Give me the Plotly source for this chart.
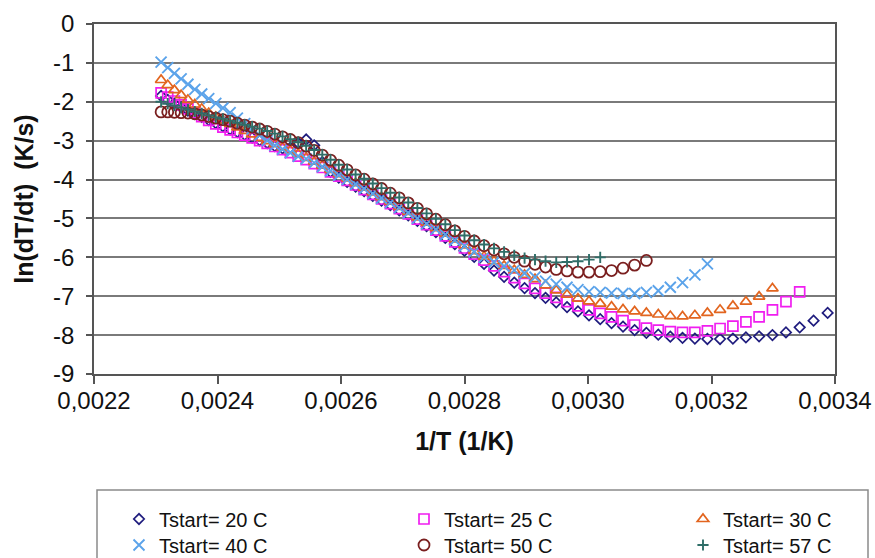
import plotly.graph_objects as go

# Temperature grid of the measurements (deg C), heating runs end at 160 C
temps_C = [160, 158, 156, 154, 152, 150, 148, 146, 144, 142,
           140, 138, 136, 134, 132, 130, 128, 126, 124, 122,
           120, 118, 116, 114, 112, 110, 108, 106, 104, 102,
           100, 98, 96, 94, 92, 90, 88, 86, 84, 82,
           80, 78, 76, 74, 72, 70, 68, 66, 64, 62,
           60, 58, 56, 54, 52, 50, 48, 46, 44, 42,
           40, 38, 36, 34, 32, 30, 28, 26, 24, 22]

# ln(dT/dt) values per series (same order as temps_C, series stop at their Tstart)
y_20 = [-1.85, -1.95, -2.05, -2.14, -2.23, -2.31, -2.39, -2.47, -2.55, -2.63,
        -2.71, -2.78, -2.85, -2.92, -2.99, -3.06, -3.14, -3.20, -3.18, -3.06,
        -2.97, -3.12, -3.55, -3.80, -3.95, -4.06, -4.18, -4.30, -4.42, -4.54,
        -4.66, -4.79, -4.92, -5.06, -5.20, -5.35, -5.50, -5.66, -5.83, -5.99,
        -6.17, -6.34, -6.50, -6.65, -6.79, -6.92, -7.04, -7.16, -7.28, -7.39,
        -7.49, -7.59, -7.69, -7.78, -7.87, -7.94, -7.99, -8.04, -8.07, -8.09,
        -8.10, -8.10, -8.09, -8.06, -8.03, -8.00, -7.93, -7.80, -7.63, -7.43]
y_25 = [-1.77, -1.88, -1.98, -2.08, -2.18, -2.28, -2.38, -2.48, -2.57, -2.65,
        -2.72, -2.79, -2.86, -2.93, -3.00, -3.07, -3.15, -3.23, -3.31, -3.40,
        -3.49, -3.59, -3.69, -3.80, -3.91, -4.02, -4.14, -4.26, -4.38, -4.50,
        -4.62, -4.75, -4.88, -5.02, -5.16, -5.30, -5.45, -5.60, -5.76, -5.92,
        -6.07, -6.22, -6.37, -6.52, -6.67, -6.80, -6.92, -7.03, -7.14, -7.25,
        -7.35, -7.44, -7.53, -7.63, -7.74, -7.82, -7.87, -7.91, -7.93, -7.93,
        -7.89, -7.83, -7.77, -7.66, -7.53, -7.35, -7.14, -6.89]
y_30 = [-1.44, -1.57, -1.70, -1.83, -1.95, -2.07, -2.18, -2.29, -2.39, -2.48,
        -2.57, -2.66, -2.75, -2.84, -2.93, -3.01, -3.09, -3.17, -3.25, -3.34,
        -3.44, -3.54, -3.64, -3.75, -3.86, -3.97, -4.09, -4.21, -4.33, -4.45,
        -4.57, -4.70, -4.83, -4.97, -5.11, -5.25, -5.39, -5.54, -5.69, -5.84,
        -5.98, -6.10, -6.22, -6.33, -6.45, -6.56, -6.72, -6.85, -6.96, -7.06,
        -7.13, -7.19, -7.27, -7.34, -7.39, -7.43, -7.47, -7.51, -7.52, -7.49,
        -7.43, -7.35, -7.25, -7.14, -7.01, -6.80]
y_40 = [-0.98, -1.12, -1.27, -1.41, -1.55, -1.68, -1.80, -1.92, -2.04, -2.16,
        -2.28, -2.42, -2.56, -2.70, -2.86, -3.00, -3.12, -3.22, -3.31, -3.40,
        -3.47, -3.57, -3.67, -3.78, -3.89, -4.00, -4.12, -4.24, -4.36, -4.48,
        -4.60, -4.73, -4.86, -5.00, -5.14, -5.28, -5.42, -5.56, -5.71, -5.86,
        -6.00, -6.12, -6.23, -6.33, -6.41, -6.51, -6.61, -6.69, -6.77, -6.83,
        -6.88, -6.90, -6.92, -6.93, -6.93, -6.90, -6.86, -6.77, -6.65, -6.45,
        -6.17]
y_50 = [-2.26, -2.26, -2.27, -2.28, -2.29, -2.31, -2.34, -2.38, -2.42, -2.46,
        -2.50, -2.55, -2.60, -2.65, -2.70, -2.76, -2.83, -2.90, -2.97, -3.05,
        -3.14, -3.25, -3.37, -3.50, -3.63, -3.75, -3.88, -3.99, -4.11, -4.23,
        -4.35, -4.47, -4.60, -4.74, -4.88, -5.02, -5.16, -5.32, -5.46, -5.58,
        -5.70, -5.81, -5.91, -6.00, -6.10, -6.18, -6.25, -6.31, -6.35, -6.38,
        -6.38, -6.37, -6.34, -6.28, -6.20, -6.08]
y_57 = [-2.00, -2.05, -2.10, -2.15, -2.20, -2.25, -2.30, -2.35, -2.40, -2.44,
        -2.49, -2.54, -2.59, -2.64, -2.69, -2.75, -2.82, -2.89, -2.96, -3.04,
        -3.13, -3.24, -3.36, -3.49, -3.62, -3.74, -3.87, -3.98, -4.10, -4.22,
        -4.34, -4.46, -4.59, -4.73, -4.87, -5.01, -5.15, -5.30, -5.44, -5.56,
        -5.67, -5.77, -5.86, -5.95, -6.02, -6.06, -6.10, -6.13, -6.12, -6.10,
        -6.06, -6.00]

series_names = ["Tstart= 20 C", "Tstart= 25 C", "Tstart= 30 C",
                "Tstart= 40 C", "Tstart= 50 C", "Tstart= 57 C"]
series_values = [y_20, y_25, y_30, y_40, y_50, y_57]

x_ticks = [0.0022, 0.0024, 0.0026, 0.0028, 0.0030, 0.0032, 0.0034]
x_tick_labels = ["0,0022", "0,0024", "0,0026", "0,0028", "0,0030", "0,0032", "0,0034"]
y_ticks = [0, -1, -2, -3, -4, -5, -6, -7, -8, -9]
y_tick_labels = [str(v) for v in y_ticks]

# styles
symbols = ["diamond-open", "square-open", "triangle-up-open",
           "x-thin-open", "circle-open", "cross-thin-open"]
colors = ["#1F1C7E", "#F01EF0", "#E2651F", "#5BA3EA", "#7A1F1F", "#2F6E68"]
sizes = [8, 10, 10, 11, 11, 8]
widths = [1.7, 1.7, 1.7, 1.9, 1.8, 1.9]
legend_ids = ["legend", "legend2", "legend3", "legend4", "legend5", "legend6"]

FONT = "Liberation Sans, Arial, sans-serif"

fig = go.Figure()
for name, ys, sym, col, sz, lw, lg in zip(series_names, series_values, symbols,
                                          colors, sizes, widths, legend_ids):
    xs = [1.0 / (t + 273.15) for t in temps_C[:len(ys)]]
    fig.add_trace(go.Scatter(
        x=xs, y=ys, mode="markers", name=name, legend=lg,
        marker=dict(symbol=sym, size=sz, color=col,
                    line=dict(width=lw, color=col)),
    ))

def px_x(p):
    return (p - 94) / 741.0

def px_y(p):
    return (374 - p) / 350.0

col_left = [119, 404, 683]
row_mid = [519, 545]
legend_layout = {}
for i, lg in enumerate(legend_ids):
    c = i % 3
    r = i // 3
    legend_layout[lg] = dict(
        x=px_x(col_left[c]), y=px_y(row_mid[r]), xanchor="left", yanchor="middle",
        xref="paper", yref="paper",
        bgcolor="rgba(0,0,0,0)", borderwidth=0,
        font=dict(family=FONT, size=20, color="#111"),
    )

fig.update_layout(
    width=875, height=558,
    margin=dict(l=94, r=40, t=24, b=184, autoexpand=False),
    plot_bgcolor="white", paper_bgcolor="white",
    separators=", ",
    font=dict(family=FONT, color="#111"),
    showlegend=True,
    **legend_layout,
)

fig.update_xaxes(
    range=[0.0022, 0.0034],
    tickmode="array", tickvals=x_ticks, ticktext=x_tick_labels,
    ticks="outside", ticklen=8, tickwidth=1.5, tickcolor="#555",
    showline=True, linecolor="#555", linewidth=1.5, mirror=True,
    showgrid=False, zeroline=False,
    ticklabelstandoff=-4,
    tickfont=dict(family=FONT, size=24, color="#111"),
    title=dict(text="1/T (1/K)", standoff=20,
               font=dict(family=FONT, size=25, color="#111", weight="bold")),
)
fig.update_yaxes(
    range=[-9, 0],
    tickmode="array", tickvals=y_ticks, ticktext=y_tick_labels,
    ticks="outside", ticklen=6, tickwidth=1.5, tickcolor="#555",
    showline=True, linecolor="#555", linewidth=1.5, mirror=True,
    showgrid=True, gridcolor="#7a7a7a", gridwidth=1.8, zeroline=False,
    ticklabelstandoff=7,
    tickfont=dict(family=FONT, size=24, color="#111"),
    title=dict(text="ln(dT/dt)\u00a0 (K/s)", standoff=12,
               font=dict(family=FONT, size=25, color="#111", weight="bold")),
)

# legend frame
fig.add_shape(type="rect", xref="paper", yref="paper",
              x0=px_x(97), x1=px_x(868), y0=px_y(575), y1=px_y(490),
              line=dict(color="#8a8a8a", width=1.5), fillcolor="rgba(0,0,0,0)",
              layer="above")

fig.write_html("out.html")
